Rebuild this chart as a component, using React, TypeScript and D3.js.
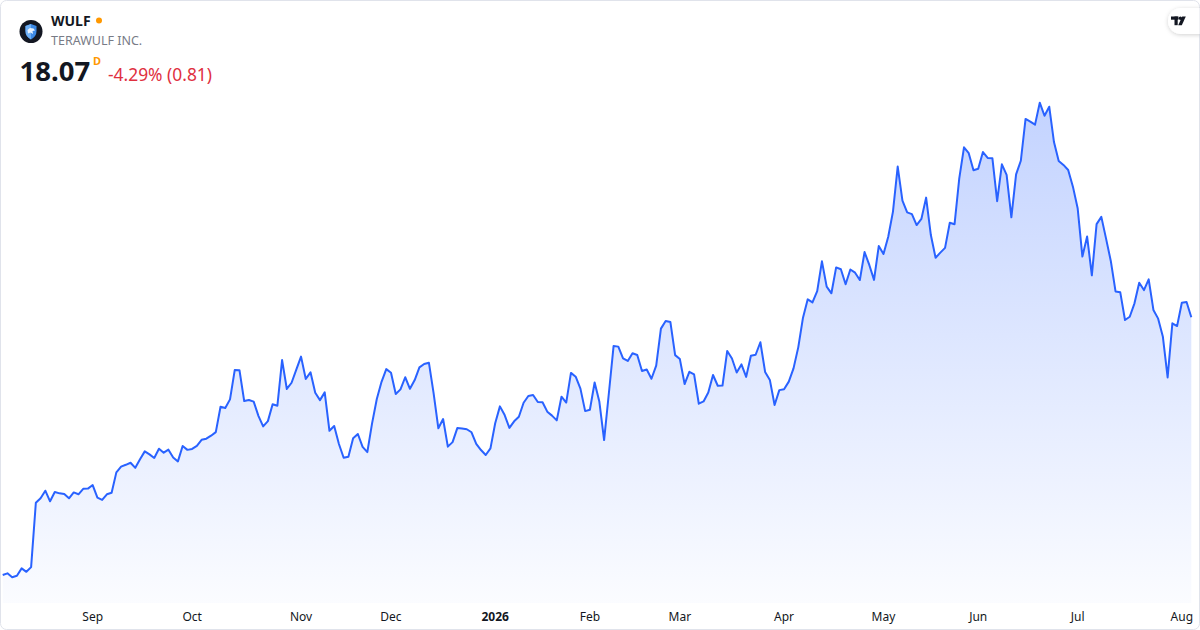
import { useEffect } from "react";
import * as d3 from "d3";

// Daily closes (late Jul 2025 → early Aug 2026)
const prices = [
  4.44, 4.53, 4.32, 4.40, 4.79, 4.61, 4.86, 8.26, 8.50, 8.90,
  8.34, 8.83, 8.76, 8.72, 8.50, 8.81, 8.71, 9.00, 9.01, 9.20,
  8.53, 8.41, 8.71, 8.79, 9.87, 10.17, 10.27, 10.38, 10.11, 10.56,
  10.98, 10.82, 10.63, 11.12, 10.91, 11.07, 10.66, 10.45, 11.26, 11.06,
  11.11, 11.27, 11.59, 11.65, 11.81, 12.00, 13.34, 13.27, 13.73, 15.28,
  15.27, 13.64, 13.70, 13.61, 12.86, 12.30, 12.58, 13.47, 13.39, 15.81,
  14.28, 14.61, 15.30, 15.99, 14.81, 15.16, 14.08, 13.69, 14.10, 12.07,
  12.32, 11.37, 10.64, 10.70, 11.67, 11.90, 11.22, 10.94, 12.46, 13.75,
  14.66, 15.33, 15.14, 14.01, 14.26, 14.90, 14.29, 14.75, 15.42, 15.60,
  15.67, 14.05, 12.20, 12.69, 11.23, 11.47, 12.21, 12.19, 12.15, 11.99,
  11.38, 11.05, 10.79, 11.14, 12.47, 13.36, 12.90, 12.22, 12.57, 12.81,
  13.55, 13.91, 13.96, 13.59, 13.58, 13.08, 12.87, 12.62, 13.87, 13.56,
  15.13, 14.93, 14.30, 13.11, 13.18, 14.62, 13.60, 11.58, 14.04, 16.55,
  16.52, 15.90, 15.76, 16.17, 16.08, 15.23, 15.31, 14.82, 15.51, 17.47,
  17.87, 17.82, 16.07, 15.86, 14.54, 15.19, 15.05, 13.50, 13.62, 14.09,
  15.02, 14.45, 14.46, 16.29, 15.89, 15.15, 15.58, 14.92, 16.04, 16.09,
  16.75, 15.18, 14.76, 13.43, 14.22, 14.27, 14.67, 15.37, 16.48, 18.05,
  19.02, 18.86, 19.45, 21.03, 19.69, 19.34, 20.71, 20.61, 19.82, 20.60,
  20.43, 20.04, 21.52, 20.84, 20.05, 21.84, 21.42, 22.33, 23.66, 26.04,
  24.24, 23.62, 23.53, 22.95, 23.27, 24.40, 22.42, 21.22, 21.49, 21.74,
  23.07, 22.99, 25.42, 27.06, 26.75, 25.85, 25.93, 26.81, 26.50, 26.48,
  24.21, 26.16, 25.60, 23.36, 25.63, 26.35, 28.56, 28.42, 28.26, 29.42,
  28.73, 29.21, 27.34, 26.34, 26.13, 25.86, 24.98, 23.84, 21.28, 22.34,
  20.29, 23.00, 23.38, 22.23, 21.05, 19.44, 19.39, 17.93, 18.10, 18.81,
  19.90, 19.51, 20.08, 18.46, 18.00, 17.04, 14.89, 17.75, 17.61, 18.84,
  18.88, 18.07,
];

// first trading day of each month, as an index into prices
const tickLabels = ["Sep", "Oct", "Nov", "Dec", "2026", "Feb", "Mar", "Apr", "May", "Jun", "Jul", "Aug"];
const tickIndex = [19, 40, 63, 82, 104, 124, 143, 165, 186, 206, 227, 249];
const boldTicks = ["2026"];

const symbol = "WULF";
const company = "TERAWULF INC.";
const lastPrice = "18.07";
const change = "-4.29% (0.81)";

const W = 1200;
const H = 630;
const paneBottom = 603;
const FONT = "'Noto Sans', 'Open Sans', Roboto, sans-serif";

export default function App() {
  useEffect(() => {
    document.body.style.margin = "0";
  }, []);

  const x = d3.scaleLinear().domain([0, prices.length - 1]).range([2.7, 1191.3]);
  const [lo, hi] = d3.extent(prices) as [number, number];
  const y = d3.scaleLinear().domain([lo, hi]).range([577.3, 102.7]);

  const line = d3.line<number>().x((_, i) => x(i)).y(d => y(d));
  const area = d3.area<number>().x((_, i) => x(i)).y0(paneBottom).y1(d => y(d));

  return (
    <svg width={W} height={H} style={{ display: "block", fontFamily: FONT }}>
      <defs>
        <linearGradient id="fill" gradientUnits="userSpaceOnUse" x1="0" y1={y(hi)} x2="0" y2={paneBottom}>
          <stop offset="0" stopColor="#2962ff" stopOpacity={0.28} />
          <stop offset="1" stopColor="#2962ff" stopOpacity={0.02} />
        </linearGradient>
        <filter id="shadow" x="-50%" y="-50%" width="200%" height="200%">
          <feDropShadow dx="0" dy="1" stdDeviation="2" floodColor="#000" floodOpacity="0.18" />
        </filter>
        <clipPath id="panel">
          <rect x={0.5} y={0.5} width={W - 1} height={H - 1} rx={6} />
        </clipPath>
      </defs>

      <rect x={0.5} y={0.5} width={W - 1} height={H - 1} rx={6} fill="#fff" stroke="#e0e3eb" />

      <g clipPath="url(#panel)">
        <path d={area(prices) ?? ""} fill="url(#fill)" />
        <path d={line(prices) ?? ""} fill="none" stroke="#2962ff" strokeWidth={2} strokeLinejoin="round" />

        {tickIndex.map((ti, k) => (
          <text
            key={tickLabels[k]}
            x={x(ti)}
            y={621}
            textAnchor="middle"
            fontSize={12}
            fill="#131722"
            fontWeight={boldTicks.includes(tickLabels[k]) ? 700 : 400}
          >
            {tickLabels[k]}
          </text>
        ))}

        {/* TradingView badge */}
        <rect x={1168} y={8} width={46} height={26} rx={13} fill="#fff" filter="url(#shadow)" />
        <g fill="#131722">
          <rect x={1171} y={16.5} width={7.5} height={3.2} />
          <rect x={1174.5} y={16.5} width={3.2} height={8.7} />
          <circle cx={1180.4} cy={18.2} r={1.7} />
          <path d="M1182.2 16.5 L1185.8 16.5 L1181.8 25.2 L1178.2 25.2 Z" />
        </g>
      </g>

      {/* logo */}
      <circle cx={31} cy={31.5} r={11.5} fill="#131722" />
      <path d="M25.5 26 L31 24 L36.5 26 L36.5 31 Q36.5 36.5 31 39.5 Q25.5 36.5 25.5 31 Z" fill="#3d8ae6" />
      <path d="M25.5 26 L31 24 L31 39.5 Q25.5 36.5 25.5 31 Z" fill="#6fb0f5" />
      <path d="M27.5 30 L30 28 L33.5 28.5 L35 30.5 L32.5 31 L33 34 L30.5 32.5 L28 33.5 Z" fill="#e8f2ff" />

      <text x={51} y={26} fontSize={14} fontWeight={700} fill="#131722">{symbol}</text>
      <circle cx={99} cy={20.5} r={3} fill="#ff9800" />
      <text x={51} y={45} fontSize={12.5} fill="#787b86">{company}</text>

      <text x={19.5} y={81} fontSize={27.5} fontWeight={700} fill="#131722">{lastPrice}</text>
      <text x={93} y={65} fontSize={11} fontWeight={700} fill="#ff9800">D</text>
      <text x={108} y={81} fontSize={17.4} fill="#e0303f">{change}</text>
    </svg>
  );
}
